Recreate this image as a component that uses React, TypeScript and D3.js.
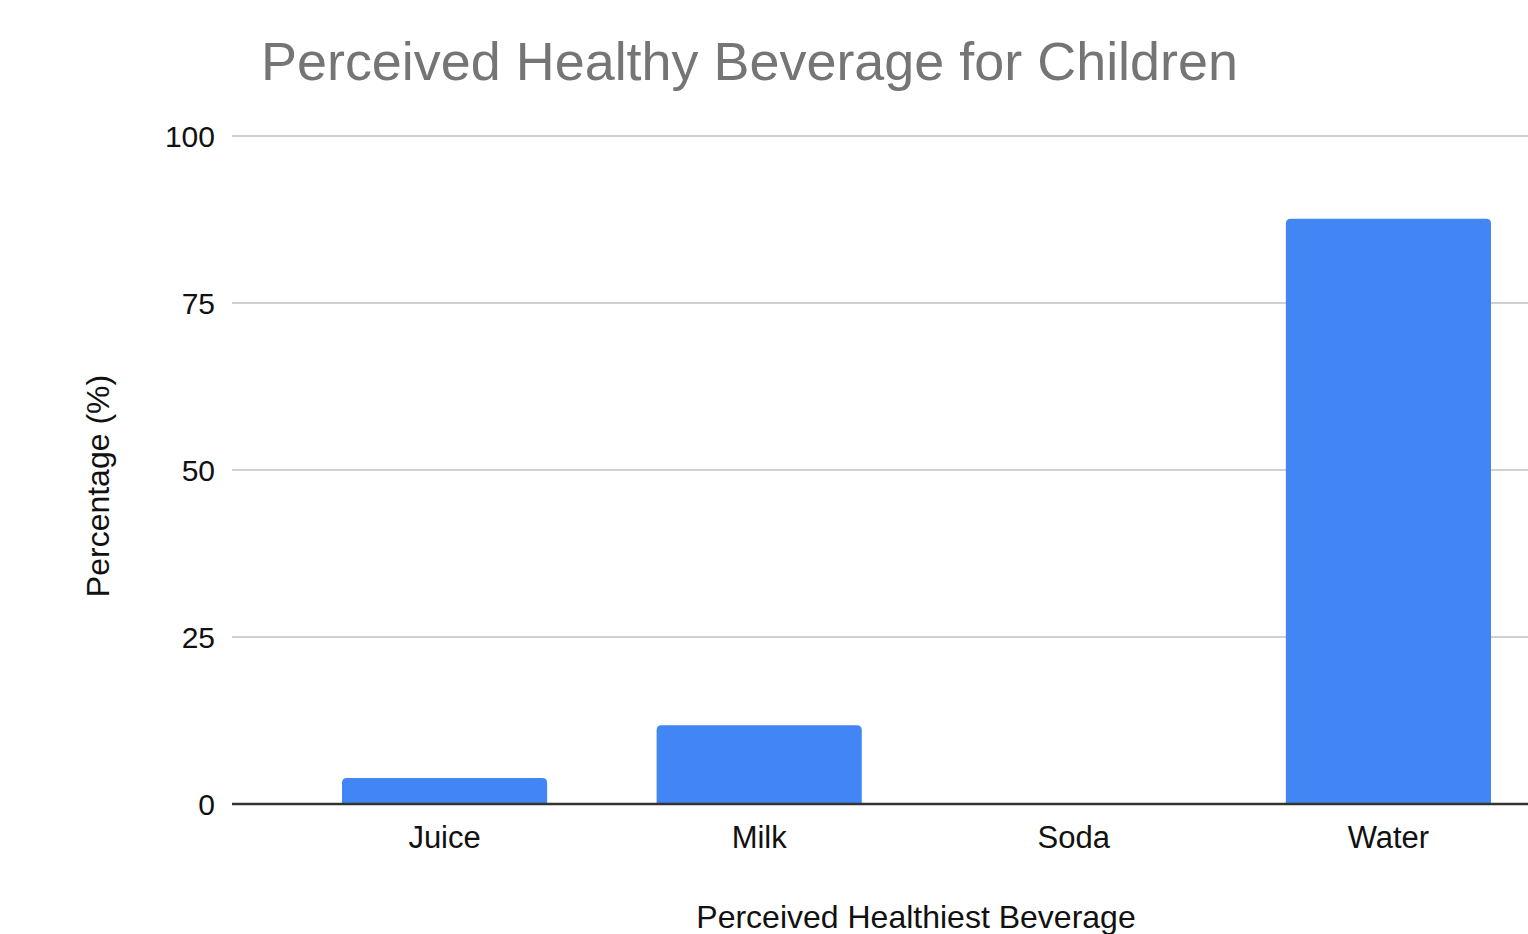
import React from "react";
import * as d3 from "d3";

const categories = ["Juice", "Milk", "Soda", "Water"];
const values = [3.9, 11.8, 0, 87.6];
const yTicks = [0, 25, 50, 75, 100];

const W = 1528;
const H = 934;
const FONT = "'Liberation Sans', Arial, Helvetica, sans-serif";

function topRoundedBar(x: number, y: number, w: number, h: number, r: number) {
  if (h <= 0) return "";
  const rr = Math.min(r, h, w / 2);
  return `M${x},${y + h}V${y + rr}Q${x},${y} ${x + rr},${y}H${x + w - rr}Q${x + w},${y} ${x + w},${y + rr}V${y + h}Z`;
}

export default function App() {
  const plotLeft = 232;
  const plotRight = W;
  const y = d3.scaleLinear().domain([0, 100]).range([804, 136]);
  const x = d3
    .scaleBand<string>()
    .domain(categories)
    .range([342, 1491])
    .paddingInner(0.348)
    .paddingOuter(0);

  return (
    <svg
      width={W}
      height={H}
      style={{ position: "absolute", left: 0, top: 0, display: "block", background: "#fff" }}
      fontFamily={FONT}
    >
      <rect width={W} height={H} fill="#fff" />
      <text x={261} y={80} fontSize={54} fill="#757575" textLength={977} lengthAdjust="spacingAndGlyphs">
        Perceived Healthy Beverage for Children
      </text>

      {yTicks.map((t) => (
        <g key={t}>
          {t !== 0 && (
            <line x1={plotLeft} x2={plotRight} y1={y(t)} y2={y(t)} stroke="#d0d0d0" strokeWidth={2} />
          )}
          <text x={215} y={y(t) + 11} fontSize={30} textAnchor="end" fill="#111">
            {t}
          </text>
        </g>
      ))}

      {categories.map((c, i) => (
        <path
          key={c}
          d={topRoundedBar(x(c)!, y(values[i]), x.bandwidth(), y(0) - y(values[i]), 5)}
          fill="#4285F4"
        />
      ))}

      <line x1={plotLeft} x2={plotRight} y1={y(0)} y2={y(0)} stroke="#333" strokeWidth={2.5} />

      {categories.map((c) => (
        <text
          key={c}
          x={x(c)! + x.bandwidth() / 2}
          y={848}
          fontSize={31}
          textAnchor="middle"
          fill="#111"
        >
          {c}
        </text>
      ))}

      <text x={916} y={928} fontSize={32} textAnchor="middle" fill="#111">
        Perceived Healthiest Beverage
      </text>
      <text
        transform={`translate(109, ${y(50) + 16}) rotate(-90)`}
        fontSize={32}
        textAnchor="middle"
        fill="#111"
      >
        Percentage (%)
      </text>
    </svg>
  );
}
